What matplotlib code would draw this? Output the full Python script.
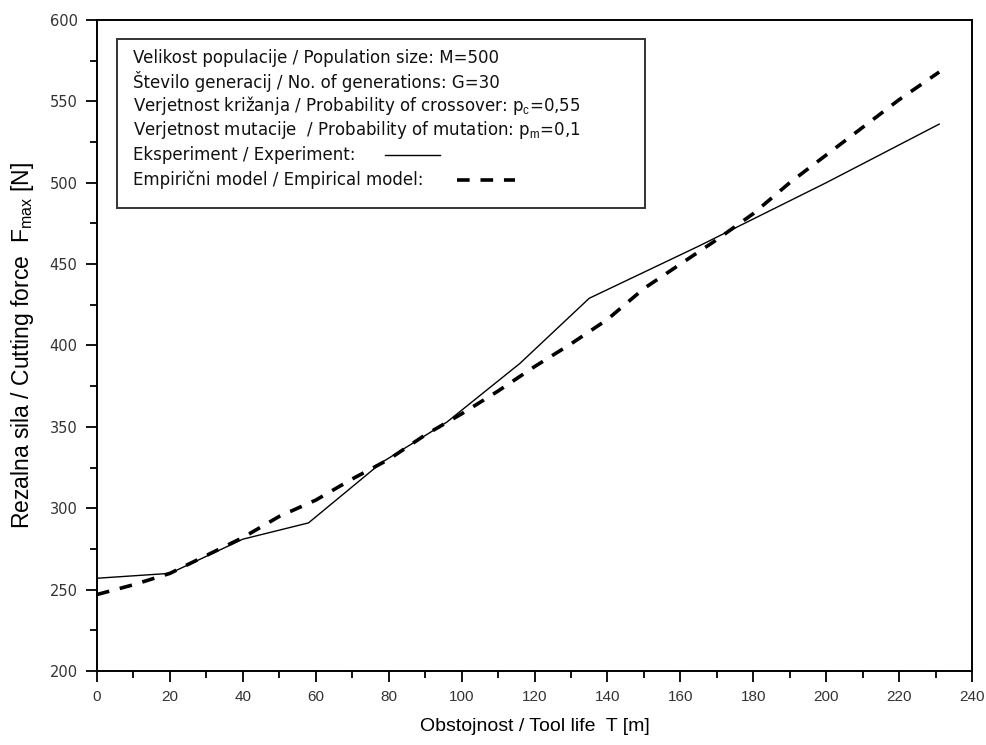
import numpy as np
import matplotlib.pyplot as plt
from matplotlib.lines import Line2D
from matplotlib.ticker import MultipleLocator
from matplotlib import font_manager

# Eksperiment (solid)
t_exp = [0, 20, 40, 58, 78, 96, 116, 135, 165, 200, 231]
f_exp = [257, 260, 281, 291, 328, 353, 389, 429, 461, 500, 536]

# Empiricni model (dashed)
t_mod = [0, 10, 20, 30, 40, 50, 60, 70, 80, 90, 100, 110, 120, 130, 140,
         150, 160, 170, 180, 190, 200, 210, 220, 231]
f_mod = [247, 253, 260, 271, 282, 295, 305, 318, 330, 345, 358, 372, 387, 401, 416,
         435, 450, 465, 481, 500, 517, 534, 551, 568]

legend_lines = [
    "Velikost populacije / Population size: M=500",
    "Število generacij / No. of generations: G=30",
    r"Verjetnost križanja / Probability of crossover: p$_{\mathrm{c}}$=0,55",
    r"Verjetnost mutacije  / Probability of mutation: p$_{\mathrm{m}}$=0,1",
    "Eksperiment / Experiment:",
    "Empirični model / Empirical model:",
]

names = {f.name for f in font_manager.fontManager.ttflist}
if 'Liberation Sans Narrow' in names:
    label_font, xl_size, yl_size = 'Liberation Sans Narrow', 17, 20
else:
    label_font, xl_size, yl_size = 'Liberation Sans', 14, 16.5

plt.rcParams['font.family'] = ['Liberation Sans', 'DejaVu Sans']
plt.rcParams['mathtext.fontset'] = 'custom'
plt.rcParams['mathtext.rm'] = label_font

fig = plt.figure(figsize=(9.86, 7.45), dpi=100)
ax = fig.add_axes([0.0984, 0.0993, 0.8874, 0.8739])

ax.plot(t_exp, f_exp, color='black', lw=1.0)
ax.plot(t_mod, f_mod, color='black', lw=2.6, linestyle=(0, (3.5, 3.0)))

ax.set_xlim(0, 240)
ax.set_ylim(200, 600)
ax.xaxis.set_major_locator(MultipleLocator(20))
ax.xaxis.set_minor_locator(MultipleLocator(10))
ax.yaxis.set_major_locator(MultipleLocator(50))
ax.yaxis.set_minor_locator(MultipleLocator(25))
ax.tick_params(which='major', direction='out', length=8, width=1.3,
               labelcolor='#333333', top=False, right=False)
ax.tick_params(which='minor', direction='out', length=5, width=1.3,
               top=False, right=False)
ax.tick_params(axis='y', pad=6)
ax.tick_params(axis='x', pad=6)
for lab in ax.get_yticklabels():
    lab.set_fontfamily('DejaVu Sans')
    lab.set_fontsize(10.5)
for lab in ax.get_xticklabels():
    lab.set_fontfamily('Liberation Sans')
    lab.set_fontsize(11)
for s in ax.spines.values():
    s.set_linewidth(1.4)

ax.set_xlabel("Obstojnost / Tool life  T [m]", fontsize=xl_size,
              family=label_font, labelpad=10)
ax.set_ylabel(r"Rezalna sila / Cutting force  F$_{\mathrm{max}}$ [N]",
              fontsize=yl_size, family=label_font, labelpad=10)

# legend box with parameter text
box = plt.Rectangle((0.023, 0.711), 0.603, 0.26, transform=ax.transAxes,
                    fill=False, edgecolor='#333333', lw=1.4)
ax.add_patch(box)
ys = [0.942, 0.906, 0.869, 0.831, 0.793, 0.754]
for y, s in zip(ys, legend_lines):
    ax.text(0.041, y, s, transform=ax.transAxes, fontsize=12,
            family=['DejaVu Sans'], va='center', ha='left', color='#111111')

ax.add_line(Line2D([0.329, 0.392], [0.793, 0.793], transform=ax.transAxes,
                   color='black', lw=1.0))
ax.add_line(Line2D([0.411, 0.478], [0.754, 0.754], transform=ax.transAxes,
                   color='black', lw=2.6, linestyle=(0, (3.5, 3.0))))

fig.savefig('out.png', dpi=100)
